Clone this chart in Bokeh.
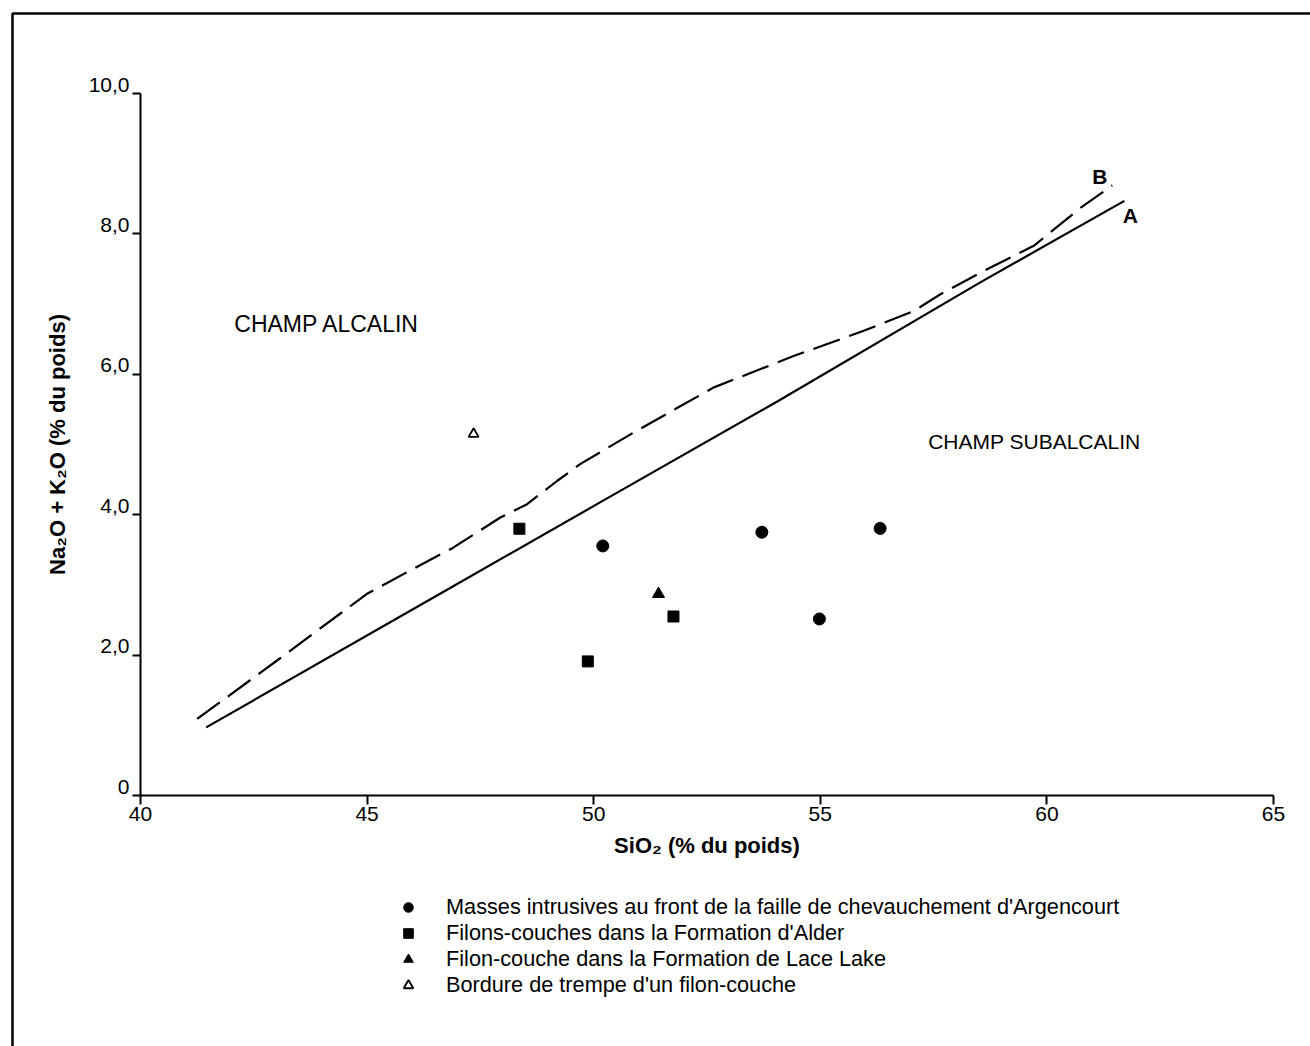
from bokeh.plotting import figure
from bokeh.models import Range1d, Label, Legend, LegendItem, BoxAnnotation, FixedTicker, LinearAxis
from bokeh.embed import file_html
from bokeh.resources import INLINE

FONT = "Liberation Sans"

# --- data ---
sio2_intrusive = [50.20, 53.71, 56.32, 54.98]
alk_intrusive = [3.555, 3.75, 3.805, 2.515]
sio2_alder = [48.36, 51.76, 49.87]
alk_alder = [3.80, 2.55, 1.91]
sio2_lace = [51.43]
alk_lace = [2.87]
sio2_chill = [47.35]
alk_chill = [5.15]

line_a_x = [41.45, 46.61, 50.14, 54.07, 58.53, 61.71]
line_a_y = [0.97, 2.875, 4.175, 5.62, 7.31, 8.47]
line_b_x = [41.25, 43.08, 44.99, 46.02, 46.90, 47.94, 48.53, 49.19, 49.70, 50.88,
            52.64, 54.41, 55.96, 57.06, 57.65, 58.60, 59.71, 60.74, 61.44]
line_b_y = [1.09, 1.955, 2.87, 3.23, 3.53, 3.96, 4.15, 4.48, 4.72, 5.17,
            5.81, 6.26, 6.62, 6.90, 7.14, 7.47, 7.83, 8.37, 8.69]

x_ticks = [40, 45, 50, 55, 60, 65]
y_ticks = [0, 2, 4, 6, 8, 10]
y_tick_labels = ["0", "2,0", "4,0", "6,0", "8,0", "10,0"]

legend_labels = [
    "Masses intrusives au front de la faille de chevauchement d'Argencourt",
    "Filons-couches dans la Formation d'Alder",
    "Filon-couche dans la Formation de Lace Lake",
    "Bordure de trempe d'un filon-couche",
]

# --- page geometry: the plot frame covers the whole page ---
W, H = 1310, 1046
AX_LEFT_PX, AX_RIGHT_PX = 140, 1273     # where SiO2 = 40 and 65 fall
AX_BOTTOM_PX, AX_TOP_PX = 795, 93       # where Na2O+K2O = 0 and 10 fall
XMIN, XMAX = x_ticks[0], x_ticks[-1]
YMIN, YMAX = y_ticks[0], y_ticks[-1]
sx = (AX_RIGHT_PX - AX_LEFT_PX) / (XMAX - XMIN)
sy = (AX_BOTTOM_PX - AX_TOP_PX) / (YMAX - YMIN)
x_start = XMIN - AX_LEFT_PX / sx
x_end = x_start + W / sx
y_end = YMIN + AX_BOTTOM_PX / sy
y_start = y_end - H / sy


def px_x(px):
    return x_start + px / sx


def px_y(py):
    return y_end - py / sy


p = figure(width=W, height=H, x_range=Range1d(x_start, x_end), y_range=Range1d(y_start, y_end),
           output_backend="svg", toolbar_location=None,
           min_border=0, min_border_left=0, min_border_right=0,
           min_border_top=0, min_border_bottom=0)
p.xaxis.visible = False
p.yaxis.visible = False
p.grid.visible = False
p.outline_line_color = None
p.background_fill_color = "white"
p.border_fill_color = "white"

xax = LinearAxis(fixed_location=YMIN, bounds=(XMIN, XMAX), ticker=FixedTicker(ticks=x_ticks),
                 axis_label="SiO₂ (% du poids)")
# y tick labels sit on top of their ticks in the original: drawn as labels below
yax = LinearAxis(fixed_location=XMIN, bounds=(YMIN, YMAX), ticker=FixedTicker(ticks=y_ticks),
                 axis_label="Na₂O + K₂O (% du poids)",
                 major_label_overrides={t: "" for t in y_ticks})

for ax in (xax, yax):
    ax.axis_line_width = 2
    ax.axis_line_color = "black"
    ax.major_tick_line_width = 2
    ax.major_tick_line_color = "black"
    ax.major_tick_in = 0
    ax.minor_tick_in = 0
    ax.minor_tick_out = 0
    ax.major_label_text_font = FONT
    ax.major_label_text_font_size = "21px"
    ax.major_label_text_color = "black"
    ax.axis_label_text_font = FONT
    ax.axis_label_text_font_size = "22px"
    ax.axis_label_text_font_style = "bold"
    ax.axis_label_text_color = "black"

xax.major_tick_out = 9
xax.major_label_standoff = 2
xax.axis_label_standoff = 9
yax.major_tick_out = 8
yax.major_label_standoff = 3
yax.axis_label_standoff = 63

p.add_layout(xax, "below")
p.add_layout(yax, "left")

for t, s in zip(y_ticks, y_tick_labels):
    p.add_layout(Label(x=XMIN, y=t + 2.0 / sy, text=s, x_offset=-11,
                       text_font=FONT, text_font_size="21px", text_color="black",
                       text_align="right", text_baseline="bottom"))

# boundary lines
p.line(line_a_x, line_a_y, line_width=2.2, line_color="black")
p.line(line_b_x, line_b_y, line_width=2.2, line_color="black", line_dash="28 10")

# points
r1 = p.scatter(sio2_intrusive, alk_intrusive, marker="circle", size=12,
               fill_color="black", line_color="black")
r2 = p.scatter(sio2_alder, alk_alder, marker="square", size=11,
               fill_color="black", line_color="black")
r3 = p.scatter(sio2_lace, alk_lace, marker="triangle", size=12,
               fill_color="black", line_color="black")
r4 = p.scatter(sio2_chill, alk_chill, marker="triangle", size=10,
               fill_color="white", line_color="black", line_width=1.8)

# texts
for txt, x, y, size in [
    ("CHAMP ALCALIN", 42.07, 6.71, "23px"),
    ("CHAMP SUBALCALIN", 57.38, 5.04, "21px"),
]:
    p.add_layout(Label(x=x, y=y, text=txt, text_font=FONT, text_font_size=size,
                       text_align="left", text_baseline="middle", text_color="black"))
for txt, x, y in [("B", 61.17, 8.82), ("A", 61.84, 8.26)]:
    p.add_layout(Label(x=x, y=y, text=txt, text_font=FONT, text_font_size="21px",
                       text_font_style="bold", text_align="center", text_baseline="middle",
                       text_color="black"))

legend = Legend(items=[LegendItem(label=l, renderers=[r]) for l, r in zip(legend_labels, [r1, r2, r3, r4])],
                location=(396, 48), orientation="vertical",
                glyph_width=24, glyph_height=24, spacing=-3, padding=0, margin=0,
                label_standoff=26, label_text_font=FONT, label_text_font_size="21.7px",
                label_text_color="black", border_line_color=None, background_fill_alpha=0)
p.add_layout(legend)

# outer frame of the printed figure (left and top edges visible)
p.add_layout(BoxAnnotation(left=px_x(12), right=x_end + 5, top=px_y(13), bottom=y_start - 5,
                           fill_alpha=0, line_color="black", line_alpha=1.0, line_width=2.5))

open("out.html", "w").write(file_html(p, INLINE))
